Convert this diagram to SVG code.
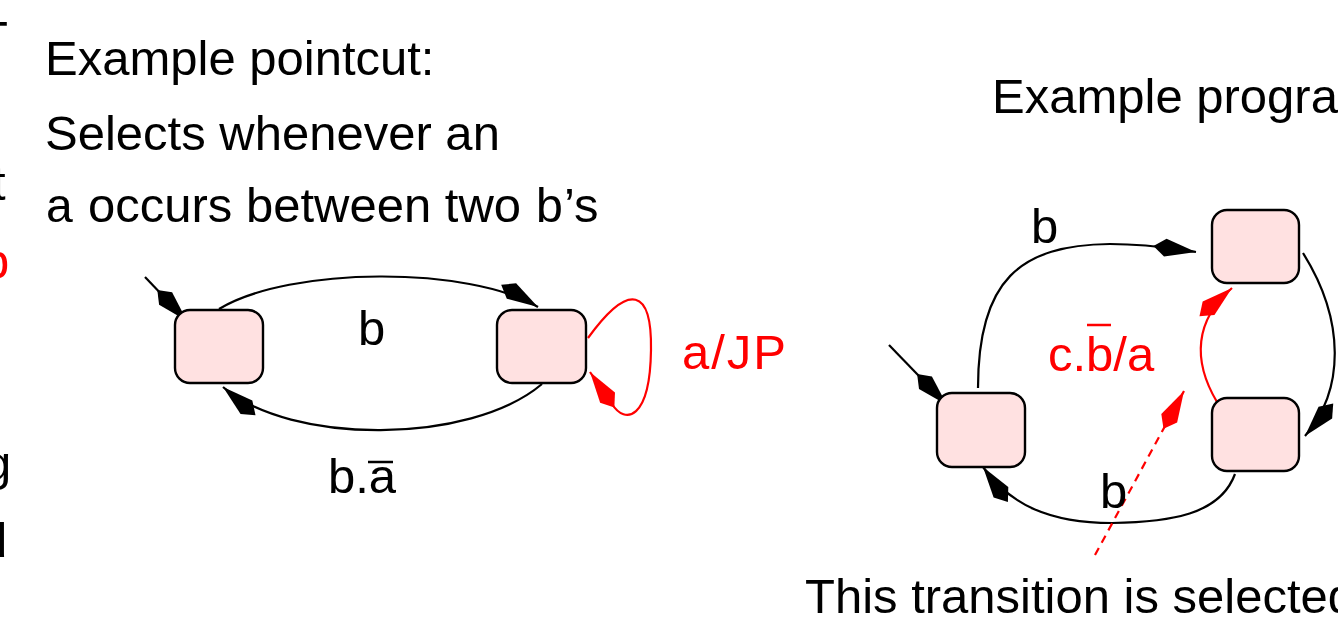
<svg xmlns="http://www.w3.org/2000/svg" width="1338" height="626" viewBox="0 0 1338 626">
  <style>
    text { font-family: "Liberation Sans", Arial, sans-serif; font-size: 49px; fill: #000; }
    .red { fill: #ff0000; }
    .state { fill: #ffe1e1; stroke: #000; stroke-width: 2.4; }
    .edge { fill: none; stroke: #000; stroke-width: 2.2; marker-end: url(#kite); }
    .edge-red { fill: none; stroke: #ff0000; stroke-width: 2.2; marker-end: url(#kite-red); }
    .dashed { stroke-dasharray: 8 6; }
    .bar { stroke-width: 2.5; }
  </style>
  <defs>
    <marker id="kite" markerUnits="userSpaceOnUse" viewBox="-44 -10 46 20" refX="0" refY="0" markerWidth="46" markerHeight="20" orient="auto" overflow="visible">
      <path d="M0,0 L-31,-9 L-43,0 L-31,9 Z" fill="#000"/>
    </marker>
    <marker id="kite-red" markerUnits="userSpaceOnUse" viewBox="-44 -10 46 20" refX="0" refY="0" markerWidth="46" markerHeight="20" orient="auto" overflow="visible">
      <path d="M0,0 L-31,-9 L-43,0 L-31,9 Z" fill="#ff0000"/>
    </marker>
  </defs>

  <!-- neighbouring column, clipped at the left edge -->
  <g id="margin-text">
    <text x="-22" y="55">T</text>
    <text x="-8" y="200">t</text>
    <text x="-18" y="278" class="red">b</text>
    <text x="-16" y="480">g</text>
    <text x="-20" y="557">d</text>
  </g>

  <!-- pointcut description -->
  <g id="pointcut-text">
    <text x="45" y="75">Example pointcut:</text>
    <text x="45" y="150">Selects whenever an</text>
    <text x="45" y="222"><tspan font-family="Liberation Mono, monospace">a</tspan> occurs between two <tspan font-family="Liberation Mono, monospace">b</tspan>’s</text>
  </g>

  <g id="program-title">
    <text x="992" y="113">Example program</text>
  </g>

  <!-- connectors -->
  <g id="connectors">
    <!-- pointcut automaton -->
    <path class="edge" d="M145,277 L187,321"/>
    <path class="edge" d="M219,309 C290,266 470,266 538,307"/>
    <path class="edge" d="M542,384 C470,445 290,445 223,387"/>
    <path class="edge-red" d="M588,338 C630,280 652,290 651,350 C650,420 625,425 612,404 L590,372"/>

    <!-- program automaton -->
    <path class="edge" d="M889,345 L947,405"/>
    <path class="edge" d="M978,388 C978,280 1020,245 1110,244 C1150,244 1175,249 1196,252"/>
    <path class="edge" d="M1303,253 C1345,320 1345,390 1305,436"/>
    <path class="edge" d="M1235,474 C1220,515 1170,522 1112,523 C1050,523 1010,505 983,467"/>
    <path class="edge-red" d="M1217,402 C1192,360 1195,320 1232,288"/>
    <path class="edge-red dashed" d="M1095,555 L1184,391"/>
  </g>

  <!-- pointcut states -->
  <g id="pc-start">
    <rect class="state" x="175" y="310" width="88" height="73" rx="15"/>
  </g>
  <g id="pc-after-b">
    <rect class="state" x="497" y="310" width="89" height="73" rx="15"/>
  </g>

  <!-- program states -->
  <g id="prog-start">
    <rect class="state" x="937" y="393" width="88" height="74" rx="15"/>
  </g>
  <g id="prog-top">
    <rect class="state" x="1212" y="210" width="87" height="73" rx="15"/>
  </g>
  <g id="prog-right">
    <rect class="state" x="1212" y="398" width="87" height="73" rx="15"/>
  </g>

  <!-- transition labels -->
  <g id="labels">
    <text x="358" y="345">b</text>
    <text x="328" y="493">b.a</text>
    <line class="bar" x1="368" y1="462" x2="393" y2="462" stroke="#000"/>
    <text x="682" y="369" class="red" letter-spacing="2">a/JP</text>

    <text x="1031" y="243">b</text>
    <text x="1100" y="508">b</text>
    <text x="1048" y="371" class="red">c.b/a</text>
    <line class="bar" x1="1087" y1="325" x2="1111" y2="325" stroke="#ff0000"/>
  </g>

  <g id="note">
    <text x="805" y="613">This transition is selected</text>
  </g>
</svg>
